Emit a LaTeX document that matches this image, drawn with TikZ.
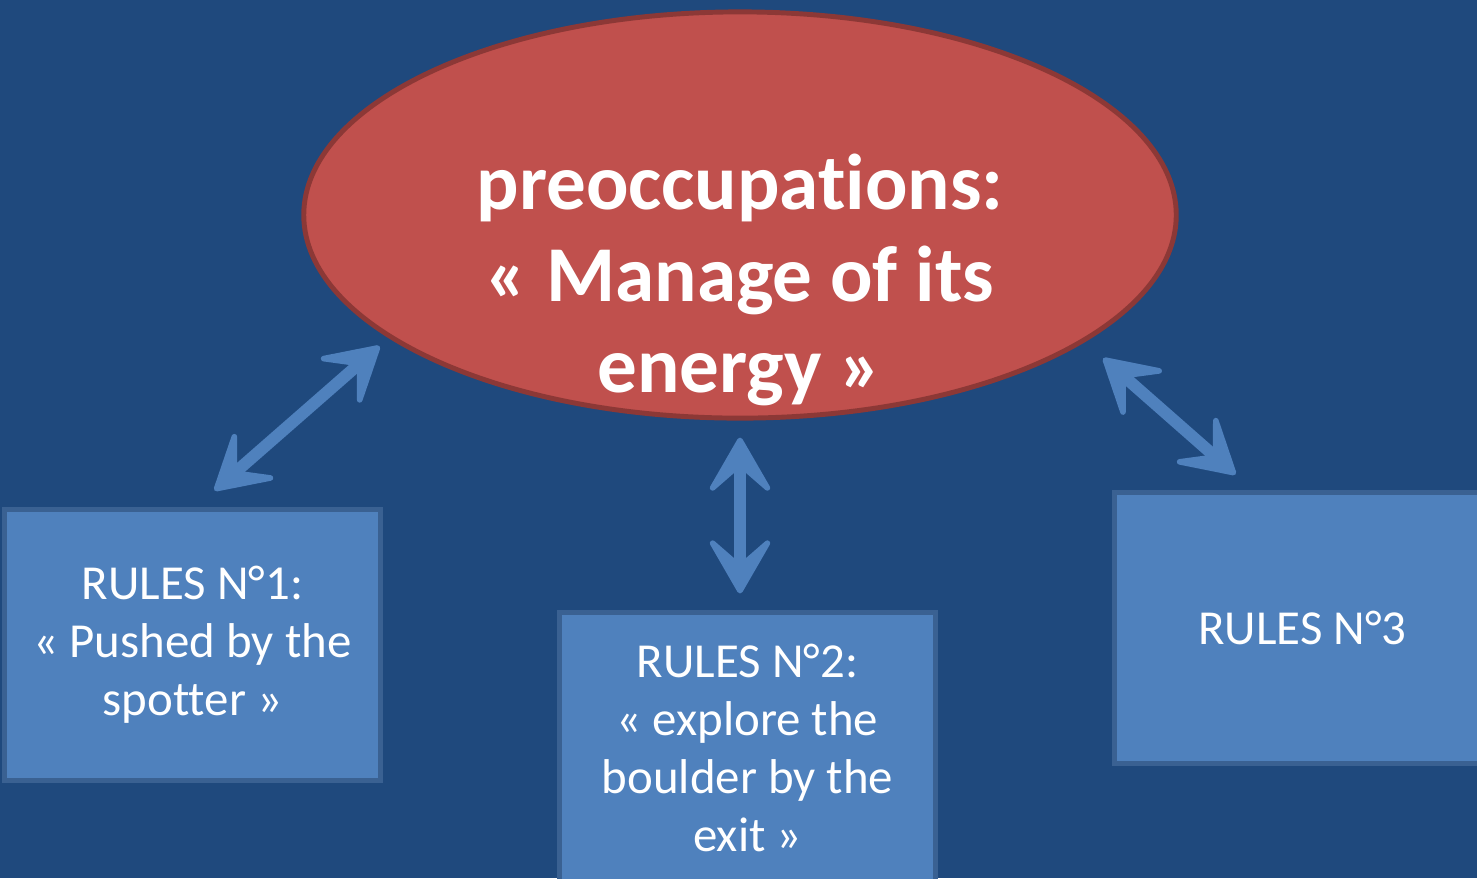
\documentclass[tikz,border=0pt]{standalone}
\usepackage{fontspec}
\setmainfont{Carlito}[Ligatures=NoCommon]
\usetikzlibrary{shapes.geometric,arrows.meta}
\definecolor{bgblue}{HTML}{1F497D}
\definecolor{boxblue}{HTML}{4F81BD}
\definecolor{boxedge}{HTML}{3A6192}
\definecolor{redfill}{HTML}{C0504D}
\definecolor{rededge}{HTML}{8C3836}
\tikzset{
  rulebox/.style={rectangle,fill=boxblue,draw=boxedge,line width=1.4pt,minimum width=3.75cm,minimum height=2.7cm,
    align=center,text=white,font=\fontsize{13.9}{16.5}\selectfont},
  twoway/.style={draw=boxblue,line width=3.4pt,>={Stealth[length=6.6mm,width=7.6mm,inset=3.3mm,round,line width=1.6pt]},<->}
}
\begin{document}
\begin{tikzpicture}[x=0.01cm,y=-0.01cm]
\useasboundingbox (0,0) rectangle (1477,878);
\fill[bgblue] (0,0) rectangle (1477,878);
\node[ellipse,fill=redfill,draw=rededge,line width=1.4pt,minimum width=8.72cm,minimum height=4.06cm,inner sep=0pt] (preocc) at (740,215) {};
\node[align=center,text=white,font=\fontsize{22.5}{26}\selectfont\bfseries] (preocctext) at (740,280)
  {preoccupations:\\« Manage of its\\energy »};
\node[rulebox] (rules1) at (192.5,645) {RULES N°1:\\« Pushed by the\\spotter »};
\node[rulebox] (rules2) at (747.5,748) {RULES N°2:\\« explore the\\boulder by the\\exit »};
\node[rulebox] (rules3) at (1302.5,628) {RULES N°3};
\draw[twoway] ([shift={(22,-17)}]rules1.north) -- ([shift={(-14,5)}]preocc.200);
\draw[twoway] ([shift={(0,17)}]preocc.south) -- ([shift={(-7.5,-17)}]rules2.north);
\draw[twoway] ([shift={(31,9)}]preocc.338) -- ([shift={(-67,-16)}]rules3.north);
\end{tikzpicture}
\end{document}
